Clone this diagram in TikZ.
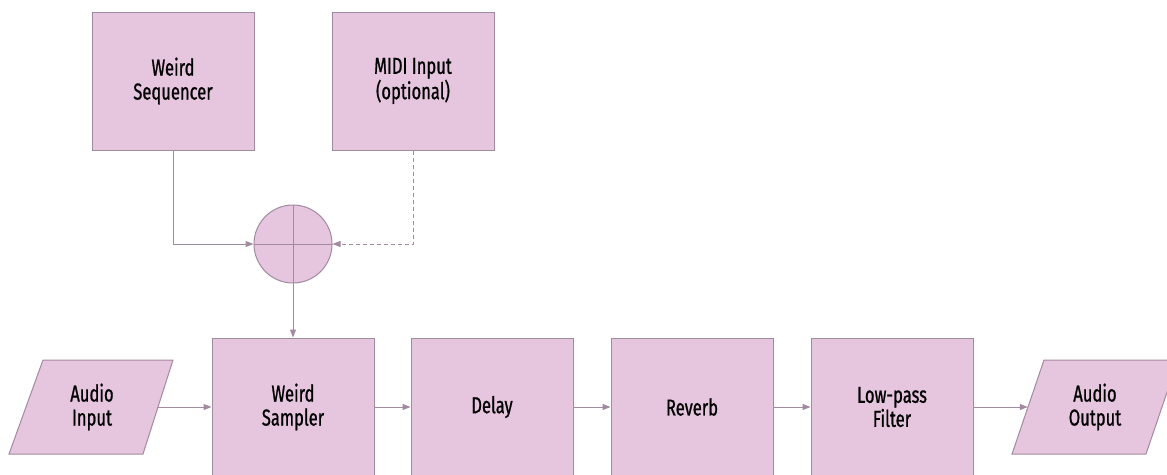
\documentclass[tikz,border=0pt]{standalone}
\usepackage{fontspec}
\setmainfont{Fira Sans}[FakeStretch=0.72, FakeBold=0.8]
\usetikzlibrary{arrows.meta}
\definecolor{boxfill}{HTML}{E6C5DF}
\definecolor{boxline}{HTML}{A28AA0}
\tikzset{
  block/.style={draw=boxline, fill=boxfill, line width=1pt, minimum width=162pt,
    minimum height=138pt, align=center, inner sep=0pt,
    font=\fontsize{23}{24}\selectfont},
  iolabel/.style={minimum width=132pt, minimum height=94pt, align=center, inner sep=0pt,
    font=\fontsize{23}{24}\selectfont},
  iobox/.style={draw=boxline, fill=boxfill, line width=1pt},
  flow/.style={draw=boxline, line width=1pt, -{Triangle[length=8pt,width=6pt]}},
  optional/.style={flow, dash pattern=on 4pt off 3pt},
}
\begin{document}
\begin{tikzpicture}[x=1pt, y=-1pt]
  \useasboundingbox (0,0) rectangle (1167,474);
  \clip (0,0) rectangle (1167,474);

  % control sources
  \node[block] (seq)  at (173,81) {Weird\\Sequencer};
  \node[block] (midi) at (413,81) {MIDI Input\\(optional)};

  % merge point
  \node[circle, draw=boxline, fill=boxfill, line width=1pt, minimum size=78pt, inner sep=0pt] (sum) at (293,244) {};
  \draw[boxline, line width=1pt] (sum.north) -- (sum.south) (sum.west) -- (sum.east);

  % audio input / output parallelograms
  \draw[iobox] (43,360) -- (173,360) -- (143,454) -- (9,454) -- cycle;
  \node[iolabel] (ain) at (92,407) {Audio\\Input};
  \draw[iobox] (1044,360) -- (1178,360) -- (1146,454) -- (1012,454) -- cycle;
  \node[iolabel, minimum width=134pt] (aout) at (1095,407) {Audio\\Output};

  % processing chain
  \node[block] (sampler) at (293,407) {Weird\\Sampler};
  \node[block] (delay)   at (492,407) {Delay};
  \node[block] (reverb)  at (692,407) {Reverb};
  \node[block] (lpf)     at (892,407) {Low-pass\\Filter};

  % connectors
  \draw[flow] (seq.south) |- (sum.west);
  \draw[optional] (midi.south) |- (sum.east);
  \draw[flow] (sum.south) -- (sampler.north);
  \draw[flow] (ain.east) -- (sampler.west);
  \draw[flow] (sampler.east) -- (delay.west);
  \draw[flow] (delay.east) -- (reverb.west);
  \draw[flow] (reverb.east) -- (lpf.west);
  \draw[flow] (lpf.east) -- (aout.west);
\end{tikzpicture}
\end{document}
